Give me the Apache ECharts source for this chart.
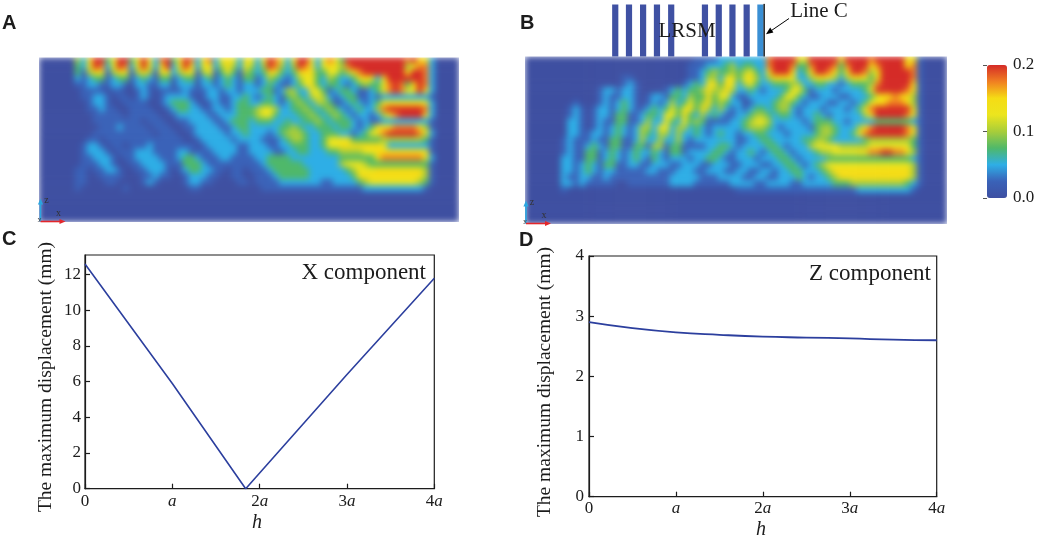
<!DOCTYPE html>
<html>
<head>
<meta charset="utf-8">
<script src="https://cdn.jsdelivr.net/npm/echarts@6/dist/echarts.min.js"></script>
<style>
html,body{margin:0;padding:0;background:#ffffff;width:1038px;height:538px;overflow:hidden;}
.layer{position:absolute;left:0;top:0;width:1038px;height:538px;}
#heat{filter:blur(3px);clip-path:path('M39 57.5 H459 V222 H39 Z M525 56.5 H947 V224 H525 Z');}
</style>
</head>
<body>
<div id="heat" class="layer"></div>
<div id="main" class="layer"></div>
<script>
// ---------- data ----------
// colour scale of the displacement field (0 .. 0.2)
const rainbow = ['#3e4fa1','#3a62b8','#2eaee6','#4fb86a','#a8cd3a','#ece51e','#f5dc15','#f07f22','#d52b27'];
// each digit of a field row is a level; level k -> value fieldLevels[k]
const fieldLevels = [0, 0.025, 0.05, 0.075, 0.1, 0.125, 0.15, 0.175, 0.2];

// Panel A: 27 rows x 70 columns
const fieldA = [
"000000"+"4268835883"+"6862783687"+"267256526"+"5258752588"+"5257638888"+"8888887866"+"2"+"0000",
"000000"+"3258725872"+"5852682586"+"256246425"+"4248742487"+"5256547888"+"8888884577"+"2"+"0000",
"000000"+"3146514651"+"4641562465"+"145135314"+"3236532366"+"6335534678"+"8888886887"+"2"+"0000",
"000000"+"2123312331"+"2321331233"+"123123213"+"3124321245"+"5324322356"+"5258888887"+"2"+"0000",
"000000"+"11221122102211220222022123212"+"2123211235"+"6323321234"+"3357873687"+"2"+"0000",
"000000"+"01111011001210111121112212212"+"2233124422553123321123578756862"+"0000",
"000000"+"01122101101210122221012211223"+"2123213432454212331121222222221"+"0000",
"000000"+"00122100111100123332101211233"+"2233212343244311232123566666652"+"0000",
"000000"+"00112110011110012332211221233"+"3455422334323432123224788888872"+"0000",
"000000"+"00011111011111001222221122233"+"3455322233432343212212467888862"+"0000",
"000000"+"00011111111011100112222112333"+"2333223223343233321211222222221"+"0000",
"000000"+"00001112111101110011222211233"+"2222233432233323321235667777641"+"0000",
"000000"+"00011111111110111001222221223"+"2221234443223332212356788888752"+"0000",
"000000"+"00110111111111111100122222122"+"2211123443223555533333444444431"+"0000",
"000000"+"01221011011121111111012222211"+"2221122333223556666666522222221"+"0000",
"000000"+"01222101112221111221111222211"+"2222112233222334444556666666651"+"0000",
"000000"+"01122210112222111233211122111"+"1223333222222223333336777777752"+"0000",
"000000"+"01112210011222211133321111111"+"1123333332222224555433333333331"+"0000",
"000000"+"11011221001122210123322110110"+"1112333333222222345556666666641"+"0000",
"000000"+"11001111000112110012221100110"+"0111233333222222236666666666641"+"0000",
"000000"+"11000110000121000012211000011"+"0111122222221122223455555555431"+"0000",
"000000"+"10000000100000000001100000000"+"0011111111111111111222222222210"+"0000",
"0000000000000000000000000000000000000000000000000000000000000000000000",
"0000000000000000000000000000000000000000000000000000000000000000000000",
"0000000000000000000000000000000000000000000000000000000000000000000000",
"0000000000000000000000000000000000000000000000000000000000000000000000",
"0000000000000000000000000000000000000000000000000000000000000000000000"
];

// Panel B: 27 rows x 70 columns
const fieldB = [
"0000000000000000000000000000"+"1111222"+"22222788886588888688887888885610000",
"000000000000000000000000000"+"11122234"+"23322788873378887378886788886710000",
"000000000000000000000000000"+"11234334"+"34532688862368876368874688888710000",
"0000000000000000"+"11"+"000000000"+"11244256"+"35642466652245654246653688888710000",
"0000000000000000"+"121"+"0000000"+"123256365"+"24532233344223322123334788888610000",
"000000000000"+"1221221"+"0000"+"123233464464"+"22321222355312221222235888887610000",
"000000000000"+"12112210122"+"133243363552"+"11222223553211222112223566766410000",
"00000000"+"100012123210121242353463432"+"20122234432122211221235667776410000",
"0000000"+"1210122123211232353563642421"+"21233234421222122212357888888510000",
"0000000"+"1210122133112332553632423211"+"22344323321223212222246888887510000",
"0000000"+"2210121133112422532534311112"+"23455422222123332212222333333210000",
"0000000"+"2210121232124425524423212222"+"23444321222213443222467888887510000",
"0000000"+"2211221232124324424223212322"+"12233222122223443223578888887510000",
"000000"+"12111211331124224224212222222"+"11223322222334432222234444444310000",
"000000"+"12112321331133144133111122332"+"12222332122245555444445555555310000",
"000000"+"12113312321232232133122223321"+"22321233212223445555667788776410000",
"000000"+"22113312321232132122212233211"+"22212223321222233333333333333210000",
"000000"+"22123213311221122211222112221"+"12221122332123455555555555555410000",
"000000"+"22123212211111221112221122211"+"22112212233222346666666666666410000",
"000000"+"21122112111111111122222111222"+"21122112223212234666666666666410000",
"000000"+"22121111100111111122221111112"+"22211222211222223334444444443210000",
"000000"+"10000000000000000000000000000"+"11111111111111111111222222222100000",
"0000000000000000000000000000000000000000000000000000000000000000000000",
"0000000000000000000000000000000000000000000000000000000000000000000000",
"0000000000000000000000000000000000000000000000000000000000000000000000",
"0000000000000000000000000000000000000000000000000000000000000000000000",
"0000000000000000000000000000000000000000000000000000000000000000000000"
];

// Panel C: X component of maximum displacement along h
const hX = [0, 1, 1.84, 3, 4];
const dispX = [12.6, 5.9, 0, 6.4, 11.8];
// Panel D: Z component
const hZ = [0, 0.5, 1, 1.5, 2, 2.5, 3, 3.5, 4];
const dispZ = [2.90, 2.80, 2.73, 2.69, 2.66, 2.645, 2.63, 2.61, 2.60];
const hTicks = ['0', 'a', '2a', '3a', '4a'];
// LRSM resonator columns (in field-column units of panel B) and Line C
const lrsmX = [14.97, 17.25, 19.59, 21.89, 24.25, 29.85, 32.14, 34.41, 36.77, 39.05];
const lineCX = 39.67;
const colorbarTicks = [0, 0.1, 0.2];

// ---------- helpers ----------
const NCOL = 70, NROW = 27;
const colCats = Array.from({length: NCOL}, (_, i) => String(i));
const rowCats = Array.from({length: NROW}, (_, i) => String(i));
function cells(rows) {
  const out = [];
  rows.forEach((row, r) => {
    const s = (row + '0'.repeat(NCOL)).slice(0, NCOL);
    for (let c = 0; c < NCOL; c++) out.push([c, r, fieldLevels[+s[c]]]);
  });
  return out;
}
const serif = "'Liberation Serif','Times New Roman',serif";
const sans = "'Liberation Sans',Arial,sans-serif";
const ink = '#1c1c1c';

// ---------- layer 1: the two fields ----------
const heat = echarts.init(document.getElementById('heat'));
heat.setOption({
  animation: false,
  grid: [
    {left: 39, top: 57.5, width: 420, height: 164.5},
    {left: 525, top: 56.5, width: 422, height: 167.5}
  ],
  xAxis: [
    {type: 'category', gridIndex: 0, data: colCats, show: false},
    {type: 'category', gridIndex: 1, data: colCats, show: false}
  ],
  yAxis: [
    {type: 'category', gridIndex: 0, data: rowCats, inverse: true, show: false},
    {type: 'category', gridIndex: 1, data: rowCats, inverse: true, show: false}
  ],
  visualMap: {type: 'continuous', show: false, min: 0, max: 0.2, seriesIndex: [0, 1], inRange: {color: rainbow}},
  series: [
    {type: 'heatmap', xAxisIndex: 0, yAxisIndex: 0, data: cells(fieldA), progressive: 0, emphasis: {disabled: true}},
    {type: 'heatmap', xAxisIndex: 1, yAxisIndex: 1, data: cells(fieldB), progressive: 0, emphasis: {disabled: true}}
  ]
});

// ---------- layer 2: everything else ----------
function txt(x, y, text, size, o) {
  o = o || {};
  return {type: 'text', x: x, y: y, rotation: o.rot || 0, z: 100, silent: true,
    style: {text: text, fontSize: size, fontFamily: o.family || serif,
      fontStyle: o.italic ? 'italic' : 'normal', fontWeight: o.bold ? 'bold' : 'normal',
      fill: o.fill || ink, align: o.align || 'center', verticalAlign: 'middle'}};
}
function seg(x1, y1, x2, y2, color, w) {
  return {type: 'line', z: 100, silent: true, shape: {x1: x1, y1: y1, x2: x2, y2: y2}, style: {stroke: color, lineWidth: w || 1}};
}
function head(pts, color) {
  return {type: 'polygon', z: 100, silent: true, shape: {points: pts}, style: {fill: color}};
}
function triad(ox, oy) {
  const blue = '#2aa6e0', red = '#e3262b';
  return [
    seg(ox, oy, ox, oy - 18, blue, 1.6), head([[ox - 2.6, oy - 17], [ox + 2.6, oy - 17], [ox, oy - 23]], blue),
    seg(ox, oy, ox + 20, oy, red, 1.6), head([[ox + 19, oy - 2.6], [ox + 19, oy + 2.6], [ox + 25, oy]], red),
    txt(ox + 6, oy - 21, 'z', 10, {align: 'center', fill: '#333'}),
    txt(ox + 18, oy - 8, 'x', 10, {align: 'center', fill: '#333'}),
    txt(ox - 1, oy - 2, 'y', 7, {align: 'center', fill: '#333'})
  ];
}
function hLabel(v) {
  const t = hTicks[Math.round(v)];
  return t === undefined ? '' : t.replace('a', '{i|a}');
}
const tickFont = {fontSize: 17, fontFamily: serif, color: ink};
function xAx(grid, margin) {
  return {type: 'value', gridIndex: grid, min: 0, max: 4, interval: 1,
    axisLine: {show: true, lineStyle: {color: ink, width: 1.2}},
    axisTick: {show: true, inside: true, length: 5, lineStyle: {color: ink, width: 1.2}},
    splitLine: {show: false},
    axisLabel: Object.assign({margin: margin, formatter: hLabel,
      rich: {i: {fontStyle: 'italic', fontSize: 17, fontFamily: serif, color: ink}}}, tickFont)};
}
function yAx(grid, max, interval, margin) {
  return {type: 'value', gridIndex: grid, min: 0, max: max, interval: interval,
    axisLine: {show: true, lineStyle: {color: ink, width: 1.2}},
    axisTick: {show: true, inside: true, length: 5, lineStyle: {color: ink, width: 1.2}},
    splitLine: {show: false},
    axisLabel: Object.assign({margin: margin, showMaxLabel: max % interval === 0}, tickFont)};
}
const frame = {show: true, borderColor: ink, borderWidth: 1.2, backgroundColor: 'transparent'};
const lineBlue = '#2c3f9e';

const main = echarts.init(document.getElementById('main'));
main.setOption({
  animation: false,
  grid: [
    Object.assign({left: 85, top: 255, width: 349.3, height: 233.7}, frame),
    Object.assign({left: 589, top: 256, width: 347.7, height: 240.7}, frame),
    {left: 525, top: 4.5, width: 422, height: 52},
    {left: 987, top: 65, width: 20, height: 133, show: false}
  ],
  xAxis: [
    xAx(0, 4), xAx(1, 3),
    {type: 'value', gridIndex: 2, min: 0, max: NCOL, show: false},
    {type: 'value', gridIndex: 3, min: 0, max: 1, show: false}
  ],
  yAxis: [
    yAx(0, 13.1, 2, 4), yAx(1, 4, 1, 5),
    {type: 'value', gridIndex: 2, min: 0, max: 1, show: false},
    {type: 'value', gridIndex: 3, min: 0, max: 0.2, interval: 0.1, position: 'right', z: 10,
      axisLine: {show: false}, splitLine: {show: false},
      axisTick: {show: true, inside: true, length: 4, lineStyle: {color: '#555', width: 1}},
      axisLabel: Object.assign({margin: 6, formatter: v => v.toFixed(1)}, tickFont)}
  ],
  visualMap: {type: 'continuous', seriesIndex: [], min: 0, max: 0.2, left: 987, top: 65,
    itemWidth: 20, itemHeight: 133, padding: 0, calculable: false, hoverLink: false,
    orient: 'vertical', text: null, inRange: {color: rainbow}, z: 2},
  series: [
    {type: 'line', xAxisIndex: 0, yAxisIndex: 0, data: hX.map((x, i) => [x, dispX[i]]),
      showSymbol: false, symbol: 'none', lineStyle: {color: lineBlue, width: 1.6}, z: 5},
    {type: 'line', xAxisIndex: 1, yAxisIndex: 1, data: hZ.map((x, i) => [x, dispZ[i]]),
      smooth: true, showSymbol: false, symbol: 'none', lineStyle: {color: lineBlue, width: 1.8}, z: 5},
    {type: 'bar', xAxisIndex: 2, yAxisIndex: 2, barWidth: 6.2,
      data: lrsmX.map((x, i) => ({value: [x, 1], itemStyle: {color: i === lrsmX.length - 1 ? '#3a8fd4' : '#3f51a3'}}))},
    {type: 'line', xAxisIndex: 2, yAxisIndex: 2, data: [[lineCX, 0], [lineCX, 1.02]],
      showSymbol: false, symbol: 'none', lineStyle: {color: '#000', width: 1.3}, z: 6}
  ],
  graphic: [
    txt(2, 23, 'A', 20, {family: sans, bold: true, align: 'left'}),
    txt(520, 23, 'B', 20, {family: sans, bold: true, align: 'left'}),
    txt(2, 239, 'C', 20, {family: sans, bold: true, align: 'left'}),
    txt(519, 240, 'D', 20, {family: sans, bold: true, align: 'left'}),
    txt(426, 272.5, 'X component', 23, {align: 'right'}),
    txt(931, 273.5, 'Z component', 23, {align: 'right'}),
    txt(45.5, 377, 'The maximum displacement (mm)', 19.5, {rot: Math.PI / 2}),
    txt(545, 382, 'The maximum displacement (mm)', 19.5, {rot: Math.PI / 2}),
    txt(257, 523, 'h', 20, {italic: true}),
    txt(761, 530, 'h', 20, {italic: true}),
    txt(687, 31, 'LRSM', 21),
    txt(819, 11, 'Line C', 21),
    seg(789, 18.5, 770, 31.5, '#000', 1),
    head([[766, 34.3], [773.4, 32.4], [770.2, 27.6]], '#000')
  ].concat(triad(40.5, 221.5), triad(526, 223.5))
});
</script>
</body>
</html>
